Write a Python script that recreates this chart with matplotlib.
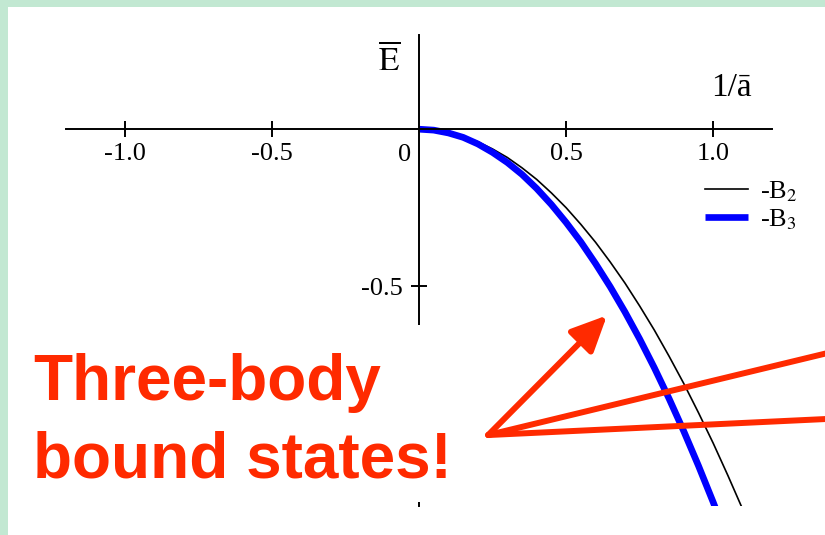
"""
bound state energies vs inverse scattering length
"""
import matplotlib.pyplot as plt
from matplotlib.patches import Rectangle

# inverse scattering length 1/a and the two energies, read at steps of 0.05
inv_a = [0.0, 0.05, 0.1, 0.15, 0.2, 0.25, 0.3, 0.35, 0.4, 0.45, 0.5, 0.55,
         0.6, 0.65, 0.7, 0.75, 0.8, 0.85, 0.9, 0.95, 1.0, 1.05, 1.1]
minus_b2 = [0.0, -0.003, -0.01, -0.023, -0.04, -0.063, -0.09, -0.123, -0.16,
            -0.203, -0.25, -0.303, -0.36, -0.423, -0.49, -0.563, -0.64,
            -0.723, -0.81, -0.903, -1.0, -1.103, -1.21]
minus_b3 = [0.0, -0.003, -0.012, -0.026, -0.047, -0.074, -0.106, -0.144,
            -0.189, -0.24, -0.297, -0.359, -0.428, -0.502, -0.582, -0.668,
            -0.76, -0.858, -0.962, -1.072, -1.188, -1.31, -1.44]

xtick_pos = [-1.0, -0.5, 0.5, 1.0]
xtick_txt = ["-1.0", "-0.5", "0.5", "1.0"]
ytick_pos = [-0.5]
ytick_txt = ["-0.5"]

RED = "#ff2a00"
MINT = "#c2e8d2"

plt.rcParams["font.family"] = ["Liberation Serif", "DejaVu Serif"]
plt.rcParams["mathtext.fontset"] = "stix"

fig = plt.figure(figsize=(8.25, 5.35), dpi=100, facecolor=MINT)
fig.patches.append(Rectangle((8 / 825, 0), 1, 1 - 7 / 535, transform=fig.transFigure,
                             facecolor="white", edgecolor="none", zorder=-1))

ax = fig.add_axes([0.08, 0.0542, 0.8558, 0.8804])
ax.patch.set_visible(False)
ax.set_xlim(-1.2, 1.2)
ax.set_ylim(-1.2, 0.3)

for side in ["top", "right"]:
    ax.spines[side].set_visible(False)
for side in ["bottom", "left"]:
    ax.spines[side].set_position(("data", 0))
    ax.spines[side].set_linewidth(1.4)

ax.set_xticks(xtick_pos, xtick_txt)
ax.set_yticks(ytick_pos, ytick_txt)
ax.tick_params(direction="inout", length=11.5, width=1.4, labelsize=19)
ax.tick_params(axis="x", pad=4)
ax.tick_params(axis="y", pad=6)

ax.plot(inv_a, minus_b2, color="black", lw=1.2, label=r"-B$_2$")
ax.plot(inv_a, minus_b3, color="#0000ff", lw=4.8, label=r"-B$_3$", solid_capstyle="butt")

ax.text(-0.05, -0.083, "0", fontsize=19, ha="center", va="center")
ax.text(-0.10, 0.22, r"$\overline{\mathrm{E}}$", fontsize=24, ha="center", va="center")
ax.text(1.061, 0.131, "1/ā", fontsize=24, ha="center", va="center")

ax.legend(loc="upper left", bbox_to_anchor=(705 / 825, 0.6654),
          bbox_transform=fig.transFigure, frameon=False, fontsize=19,
          handlelength=1.63, handletextpad=0.45, labelspacing=0.15,
          borderpad=0, borderaxespad=0)

# red callout: one arrow to the curve, two lines running off to the right
start = (0.235, -0.974)
ax.annotate("", xy=(0.639, -0.593), xytext=start, annotation_clip=False,
            arrowprops=dict(arrowstyle="-|>,head_length=0.6,head_width=0.28",
                            mutation_scale=36, lw=4.3, color=RED,
                            shrinkA=0, shrinkB=0))
for end in [(1.45, -0.699), (1.45, -0.920)]:
    ax.annotate("", xy=end, xytext=start, annotation_clip=False,
                arrowprops=dict(arrowstyle="-", lw=4.3, color=RED,
                                shrinkA=0, shrinkB=0))

# white text box hides the lower part of the vertical axis
fig.patches.append(Rectangle((0.03, 0.0617), 0.53, 0.33, transform=fig.transFigure,
                             facecolor="white", edgecolor="none", zorder=1))
fig.text(33 / 825, 1 - 400 / 535, "Three-body", color=RED, fontsize=46,
         fontweight="bold", family="Liberation Sans", va="baseline", zorder=3)
fig.text(33 / 825, 1 - 477 / 535, "bound states!", color=RED, fontsize=46,
         fontweight="bold", family="Liberation Sans", va="baseline", zorder=3)

plt.savefig("out.png", dpi=100, facecolor=fig.get_facecolor())
